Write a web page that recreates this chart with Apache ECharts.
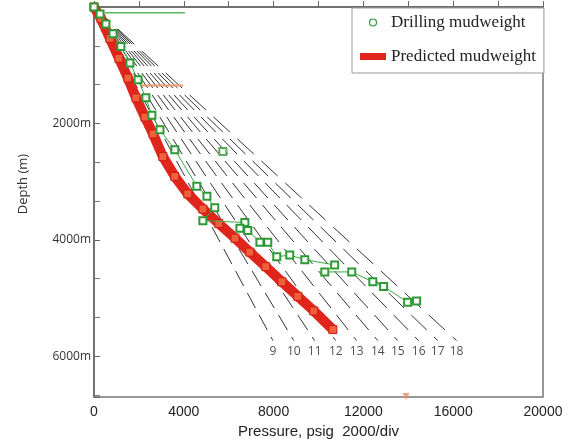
<!DOCTYPE html>
<html>
<head>
<meta charset="utf-8">
<script src="https://cdn.jsdelivr.net/npm/echarts@6/dist/echarts.min.js"></script>
<style>
  html, body { margin: 0; padding: 0; background: #fff; }
  #chart { width: 581px; height: 444px; }
</style>
</head>
<body>
<div id="chart"></div>
<script>
// mud weight gradient lines (ppg), end points
const mudWeights = [9, 10, 11, 12, 13, 14, 15, 16, 17, 18]
const mwEndPressure = [7970, 8900, 9830, 10770, 11700, 12640, 13530, 14460, 15310, 16150]
const mwEndDepth = 5730

// predicted mudweight (red band)
const predictedPressure = [0, 310, 710, 1110, 1510, 1870, 2270, 2630, 3070, 3600, 4180, 4850, 5560, 6280, 6940, 7650, 8370, 9080, 9790, 10640]
const predictedDepth = [0, 200, 540, 880, 1220, 1560, 1890, 2180, 2570, 2910, 3210, 3470, 3720, 3970, 4210, 4460, 4720, 4970, 5220, 5540]

// drilling mudweight (green squares)
const drillingPressure = [0, 270, 530, 850, 1200, 1600, 1960, 2310, 2580, 2940, 3600, 4580, 5030, 5380, 4850, 6720, 6500, 6850, 7390, 7740, 8140, 8720, 9390, 10720, 10280, 11480, 12420, 12900, 13970, 14370]
const drillingDepth = [0, 120, 290, 460, 680, 960, 1250, 1560, 1860, 2110, 2450, 3080, 3250, 3450, 3670, 3700, 3800, 3840, 4040, 4040, 4290, 4260, 4340, 4430, 4550, 4550, 4720, 4800, 5070, 5050]
const drillingOutlier = [5740, 2480]
const surfacePressure = [490, 4050]
const surfaceDepth = 100
const shoePressure = [2050, 3960]
const shoeDepth = 1350
const bottomMark = [13900, 6690]

const xMax = 20000
const yMax = 6700

const chart = echarts.init(document.getElementById('chart'))

const mwSeries = mudWeights.map((mw, i) => ({
  type: 'line',
  name: 'mw' + mw,
  symbol: 'none',
  silent: true,
  z: 1,
  lineStyle: { color: '#333', width: 1, type: 'dashed' },
  data: [[0, 0], [mwEndPressure[i], mwEndDepth]]
}))

const mwLabels = {
  type: 'scatter',
  name: 'mwLabels',
  symbolSize: 1,
  itemStyle: { color: 'rgba(0,0,0,0)' },
  silent: true,
  label: {
    show: true,
    position: 'bottom',
    distance: 4,
    formatter: p => p.name,
    fontFamily: 'Open Sans',
    fontSize: 12,
    color: '#222'
  },
  data: mudWeights.map((mw, i) => ({ name: String(mw), value: [mwEndPressure[i], mwEndDepth] }))
}

const option = {
  animation: false,
  grid: {
    left: 94, right: 38, top: 7, bottom: 41,
    show: true, borderColor: '#777', borderWidth: 1.5
  },
  legend: {
    orient: 'vertical',
    left: 352,
    top: 8,
    padding: [6, 8, 8, 8],
    itemWidth: 26,
    itemHeight: 7,
    itemGap: 17,
    backgroundColor: '#fff',
    borderColor: '#999',
    borderWidth: 1,
    textStyle: { fontFamily: 'Liberation Serif', fontSize: 17, color: '#222' },
    data: [
      { name: 'Drilling mudweight', icon: 'circle', itemStyle: { color: '#fff', borderColor: '#2e9a36', borderWidth: 1.2 } },
      { name: 'Predicted mudweight', icon: 'rect', itemStyle: { color: '#e0261c', borderWidth: 0 } }
    ]
  },
  xAxis: {
    type: 'value',
    min: 0,
    max: xMax,
    interval: 4000,
    name: 'Pressure, psig  2000/div',
    nameLocation: 'middle',
    nameGap: 25,
    nameTextStyle: { fontFamily: 'Liberation Sans', fontSize: 15, color: '#222' },
    axisLine: { lineStyle: { color: '#666', width: 1.5 } },
    axisTick: { inside: true, length: 6, lineStyle: { color: '#666' } },
    minorTick: { show: true, splitNumber: 2, length: 6, lineStyle: { color: '#666' } },
    splitLine: { show: false },
    axisLabel: { fontFamily: 'Liberation Sans', fontSize: 14, color: '#222', margin: 8, formatter: v => String(v) }
  },
  yAxis: {
    type: 'value',
    inverse: true,
    min: 0,
    max: yMax,
    interval: 2000,
    name: 'Depth (m)',
    nameLocation: 'middle',
    nameGap: 64,
    nameTextStyle: { fontFamily: 'Open Sans', fontSize: 13, color: '#333', padding: [0, 0, 0, 36] },
    axisLine: { lineStyle: { color: '#666', width: 1.5 } },
    axisTick: { inside: true, length: 6, lineStyle: { color: '#666' } },
    minorTick: { show: true, splitNumber: 3, length: 6, lineStyle: { color: '#777' } },
    splitLine: { show: false },
    axisLabel: {
      fontFamily: 'Open Sans', fontSize: 12, color: '#333', margin: 3,
      formatter: v => (v === 2000 || v === 4000 || v === 6000) ? v + 'm' : ''
    }
  },
  series: [
    ...mwSeries,
    mwLabels,
    {
      type: 'line',
      name: 'shoe',
      symbol: 'none',
      silent: true,
      z: 2,
      lineStyle: { color: '#e89a6a', width: 2 },
      data: shoePressure.map(p => [p, shoeDepth])
    },
    {
      type: 'line',
      name: 'Predicted mudweight',
      z: 3,
      symbol: 'rect',
      symbolSize: 8,
      itemStyle: { color: '#f0603c', borderColor: '#d01a10', borderWidth: 1 },
      lineStyle: { color: '#e0261c', width: 10 },
      data: predictedPressure.map((p, i) => [p, predictedDepth[i]])
    },
    {
      type: 'scatter',
      name: 'Predicted mudweight',
      z: 3,
      symbol: 'triangle',
      symbolRotate: 180,
      symbolSize: 7,
      itemStyle: { color: '#f08a60' },
      data: [bottomMark]
    },
    {
      type: 'line',
      name: 'surface',
      symbol: 'none',
      silent: true,
      z: 4,
      lineStyle: { color: '#5cb85c', width: 1.5 },
      data: surfacePressure.map(p => [p, surfaceDepth])
    },
    {
      type: 'line',
      name: 'Drilling mudweight',
      z: 5,
      symbol: 'emptyRect',
      symbolSize: 7,
      itemStyle: { color: '#2e9a36', borderWidth: 1 },
      lineStyle: { color: '#3aaa46', width: 1 },
      data: drillingPressure.map((p, i) => [p, drillingDepth[i]])
    },
    {
      type: 'scatter',
      name: 'Drilling mudweight',
      z: 5,
      symbol: 'emptyRect',
      symbolSize: 7,
      itemStyle: { color: '#2e9a36', borderWidth: 1 },
      data: [drillingOutlier]
    }
  ]
}

chart.setOption(option)

// dashes line up by depth: 15px dash, 7px gap measured vertically
const o = chart.convertToPixel({ gridIndex: 0 }, [0, 0])
chart.setOption({
  series: mudWeights.map((mw, i) => {
    const e = chart.convertToPixel({ gridIndex: 0 }, [mwEndPressure[i], mwEndDepth])
    const dx = e[0] - o[0]
    const dy = e[1] - o[1]
    const s = Math.sqrt(dx * dx + dy * dy) / dy
    return { name: 'mw' + mw, lineStyle: { type: [15 * s, 7 * s] } }
  })
})
</script>
</body>
</html>
